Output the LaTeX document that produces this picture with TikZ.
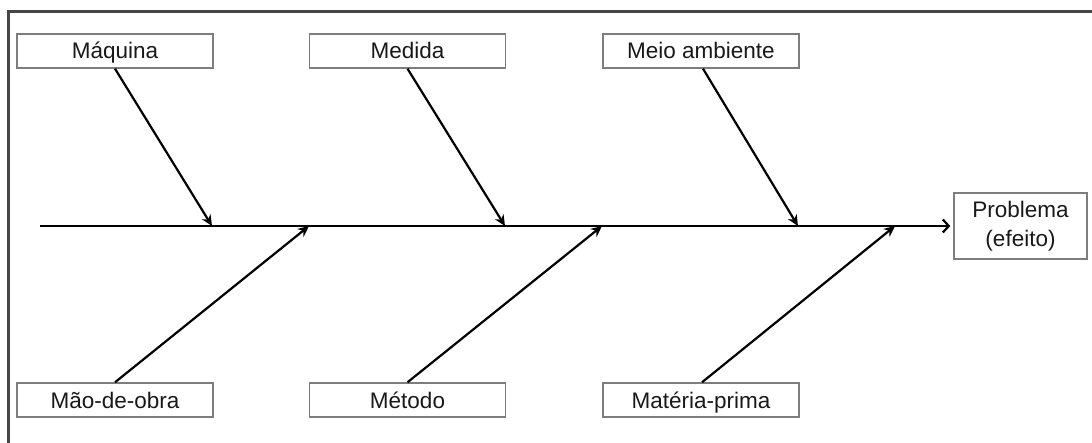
\documentclass[tikz,border=0pt]{standalone}
\usepackage{fontspec}
\setmainfont{Liberation Sans}
\usetikzlibrary{arrows.meta}
\definecolor{boxline}{RGB}{125,125,125}
\definecolor{frameline}{RGB}{70,70,70}
\definecolor{txt}{RGB}{25,25,25}
\tikzset{
  cause/.style={draw=boxline, line width=1.4pt, minimum width=196pt, minimum height=34pt, inner sep=0pt, text height=16pt, text depth=0pt, text=txt, font=\fontsize{22.5}{26}\selectfont},
  effect/.style={draw=boxline, line width=1.4pt, minimum width=133pt, minimum height=66pt, inner sep=0pt, text=txt, align=center, font=\fontsize{22.5}{29}\selectfont},
  bone/.style={line width=2.2pt, -{Stealth[length=11pt,width=10pt]}},
  spine/.style={line width=2.2pt, -{Straight Barb[length=6pt,width=13pt,line width=2.2pt]}},
}
\begin{document}
\begin{tikzpicture}[x=1pt,y=-1pt]
\useasboundingbox (0,0) rectangle (1092,443);
\fill[white] (0,0) rectangle (1092,443);
\draw[frameline, line width=2.2pt] (8.5,443) -- (8.5,11.5) -- (1092,11.5);
% cause boxes
\node[cause] (maq) at (115,51) {Máquina};
\node[cause] (med) at (407.5,51) {Medida};
\node[cause] (mei) at (701,51) {Meio ambiente};
\node[cause] (mao) at (115,400) {Mão-de-obra};
\node[cause] (met) at (407.5,400) {Método};
\node[cause] (mat) at (701,400) {Matéria-prima};
\node[effect] (prob) at (1020.5,226) {Problema\\(efeito)};
% spine
\coordinate (s0) at (40,226);
\draw[spine, shorten >=3pt] (s0) -- (prob.west);
% join points
\coordinate (j1) at (212,226);
\coordinate (j2) at (505,226);
\coordinate (j3) at (798,226);
\coordinate (k1) at (309,226);
\coordinate (k2) at (602,226);
\coordinate (k3) at (895,226);
\draw[bone] (maq.south) -- (j1);
\draw[bone] (med.south) -- (j2);
\draw[bone] ([xshift=2pt]mei.south) -- (j3);
\draw[bone] (mao.north) -- (k1);
\draw[bone] (met.north) -- (k2);
\draw[bone] ([xshift=1pt]mat.north) -- (k3);
\end{tikzpicture}
\end{document}
